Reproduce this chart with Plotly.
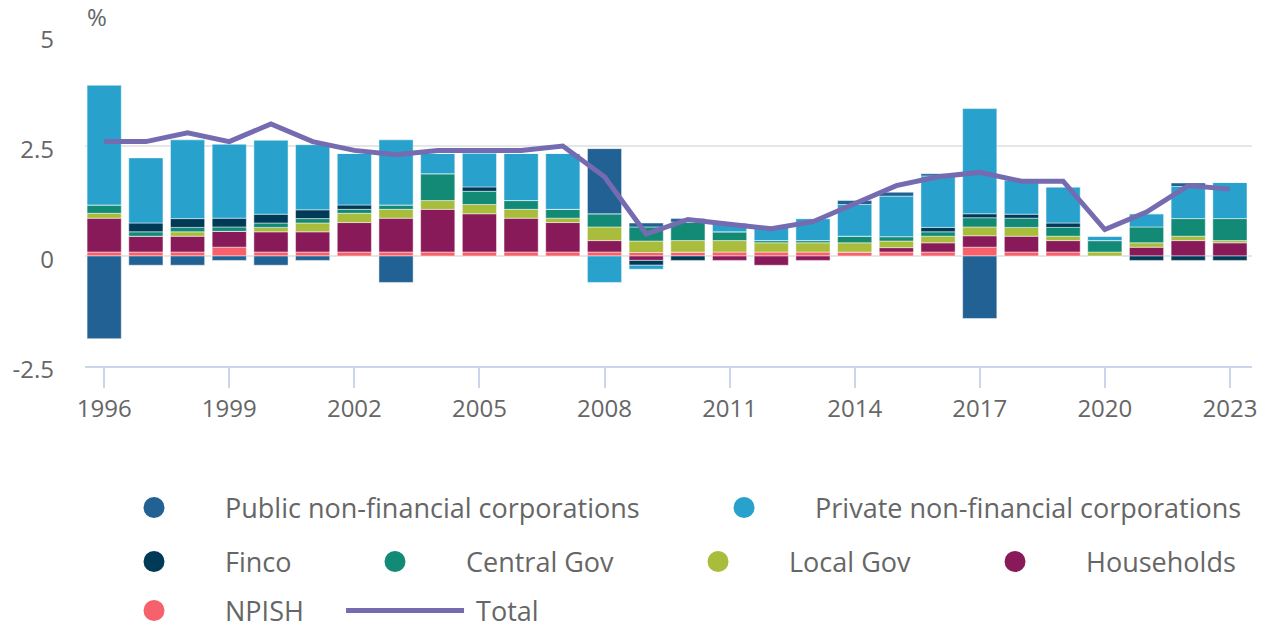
import plotly.graph_objects as go

years = list(range(1996, 2024))

public = [-1.88, -0.21, -0.21, -0.1, -0.21, -0.1, 0, -0.6, 0, 0, 0, 0, 1.48, 0.09,
          0.08, 0, 0, 0, 0.09, 0.09, 0.05, -1.42, 0, 0, 0, 0, 0.08, 0]
private = [2.72, 1.48, 1.79, 1.68, 1.68, 1.48, 1.17, 1.48, 0.46, 0.77, 1.07, 1.27, -0.6, -0.09,
           0, 0.2, 0.32, 0.5, 0.72, 0.92, 1.17, 2.39, 0.78, 0.82, 0.1, 0.3, 0.73, 0.82]
finco = [0, 0.2, 0.2, 0.2, 0.2, 0.2, 0.1, 0, 0, 0.1, 0, 0, 0, -0.11,
         -0.1, 0, 0, 0, 0, 0, 0.1, 0.09, 0.09, 0.1, 0, -0.1, -0.1, -0.1]
central = [0.19, 0.1, 0.1, 0.1, 0.1, 0.1, 0.09, 0.1, 0.61, 0.3, 0.2, 0.2, 0.3, 0.32,
           0.42, 0.2, 0.05, 0.05, 0.15, 0.1, 0.1, 0.21, 0.21, 0.2, 0.26, 0.36, 0.4, 0.5]
local = [0.11, 0, 0.1, 0, 0.1, 0.2, 0.21, 0.2, 0.2, 0.21, 0.2, 0.1, 0.31, 0.26,
         0.26, 0.26, 0.21, 0.21, 0.21, 0.15, 0.15, 0.2, 0.2, 0.1, 0.09, 0.1, 0.1, 0.05]
households = [0.77, 0.36, 0.36, 0.36, 0.46, 0.46, 0.67, 0.77, 0.97, 0.87, 0.77, 0.67, 0.26, -0.1,
              0, -0.1, -0.21, -0.1, 0, 0.1, 0.21, 0.26, 0.36, 0.26, 0, 0.2, 0.35, 0.3]
npish = [0.09, 0.09, 0.09, 0.2, 0.09, 0.09, 0.09, 0.09, 0.09, 0.09, 0.09, 0.09, 0.09, 0.08,
         0.09, 0.09, 0.09, 0.09, 0.09, 0.09, 0.09, 0.2, 0.09, 0.09, 0, 0, 0, 0]
total = [2.6, 2.6, 2.8, 2.6, 3.0, 2.6, 2.4, 2.3, 2.4, 2.4, 2.4, 2.5, 1.8, 0.5,
         0.83, 0.72, 0.62, 0.78, 1.2, 1.6, 1.8, 1.9, 1.7, 1.7, 0.6, 1.0, 1.6, 1.52]

tick_years = [1996, 1999, 2002, 2005, 2008, 2011, 2014, 2017, 2020, 2023]
ytick_vals = [-2.5, 0, 2.5, 5]
ytick_text = ["-2.5", "0", "2.5", "5"]

# stacking order (closest to zero first)
stack = [
    ("NPISH", npish, "#F6616B"),
    ("Households", households, "#891A59"),
    ("Local Gov", local, "#A9BC3B"),
    ("Central Gov", central, "#138A76"),
    ("Finco", finco, "#003A57"),
    ("Private non-financial corporations", private, "#28A1CD"),
    ("Public non-financial corporations", public, "#226193"),
]
colors = {n: c for n, _, c in stack}

FONT = "Open Sans"
TXT = "#666666"
LEG_SIZE = 27

fig = go.Figure()
for name, vals, col in stack:
    fig.add_trace(go.Bar(x=years, y=vals, name=name,
                         marker=dict(color=col, line=dict(color="rgba(255,255,255,0.6)", width=0.8)),
                         showlegend=False))

fig.add_trace(go.Scatter(x=years, y=total, mode="lines", name="Total",
                         line=dict(color="#756BB1", width=5), showlegend=False))

# legend entries (each in own legend for layout matching)
legend_items = [
    ("Public non-financial corporations", "legend", -0.0017, -0.4303),
    ("Private non-financial corporations", "legend2", 0.5039, -0.4303),
    ("Finco", "legend3", -0.0017, -0.5939),
    ("Central Gov", "legend4", 0.2048, -0.5939),
    ("Local Gov", "legend5", 0.4816, -0.5939),
    ("Households", "legend6", 0.7361, -0.5939),
    ("NPISH", "legend7", -0.0017, -0.7424),
]
legend_layout = {}
for name, lg, lx, ly in legend_items:
    c = colors[name]
    fig.add_trace(go.Scatter(x=[None], y=[None], mode="markers", name=name, legend=lg,
                             marker=dict(symbol="circle", size=16, color=c, line=dict(color=c, width=5)),
                             showlegend=True))
    legend_layout[lg] = dict(x=lx, y=ly, xanchor="left", yanchor="middle", orientation="h",
                             itemwidth=132, bgcolor="rgba(0,0,0,0)", borderwidth=0,
                             font=dict(family=FONT, size=LEG_SIZE, color=TXT))

fig.add_trace(go.Scatter(x=[None], y=[None], mode="lines", name="\u00a0Total", legend="legend8",
                         line=dict(color="#756BB1", width=5), showlegend=True))
legend_layout["legend8"] = dict(x=0.2194, y=-0.7424, xanchor="left", yanchor="middle", orientation="h",
                                itemwidth=118, bgcolor="rgba(0,0,0,0)", borderwidth=0,
                                font=dict(family=FONT, size=LEG_SIZE, color=TXT))

fig.update_layout(
    width=1267, height=630,
    margin=dict(l=85, r=15, t=36, b=264, autoexpand=False),
    barmode="relative", bargap=0.18,
    plot_bgcolor="white", paper_bgcolor="white",
    font=dict(family=FONT, size=24, color=TXT),
    xaxis=dict(range=[1995.54, 2023.53], tickvals=tick_years, ticktext=[str(t) for t in tick_years],
               showgrid=False, zeroline=False, showline=True, linecolor="#CCD6EB", linewidth=2,
               ticks="outside", ticklen=20, tickwidth=2, tickcolor="#CCD6EB",
               tickfont=dict(family=FONT, size=24, color=TXT)),
    yaxis=dict(range=[-2.5, 5], tickvals=ytick_vals, ticktext=ytick_text,
               showgrid=True, gridcolor="#E6E6E6", gridwidth=1.5, zeroline=False,
               showline=False, ticks="", ticklabelstandoff=30, ticklabelshift=4,
               tickfont=dict(family=FONT, size=24, color=TXT)),
    annotations=[dict(text="%", xref="paper", yref="paper", x=0, y=1, xanchor="left", yanchor="bottom",
                      yshift=1, showarrow=False, font=dict(family=FONT, size=24, color=TXT))],
    **legend_layout,
)

fig.write_html("out.html", config={"displayModeBar": False},
               post_script="document.body.style.margin='0';")
